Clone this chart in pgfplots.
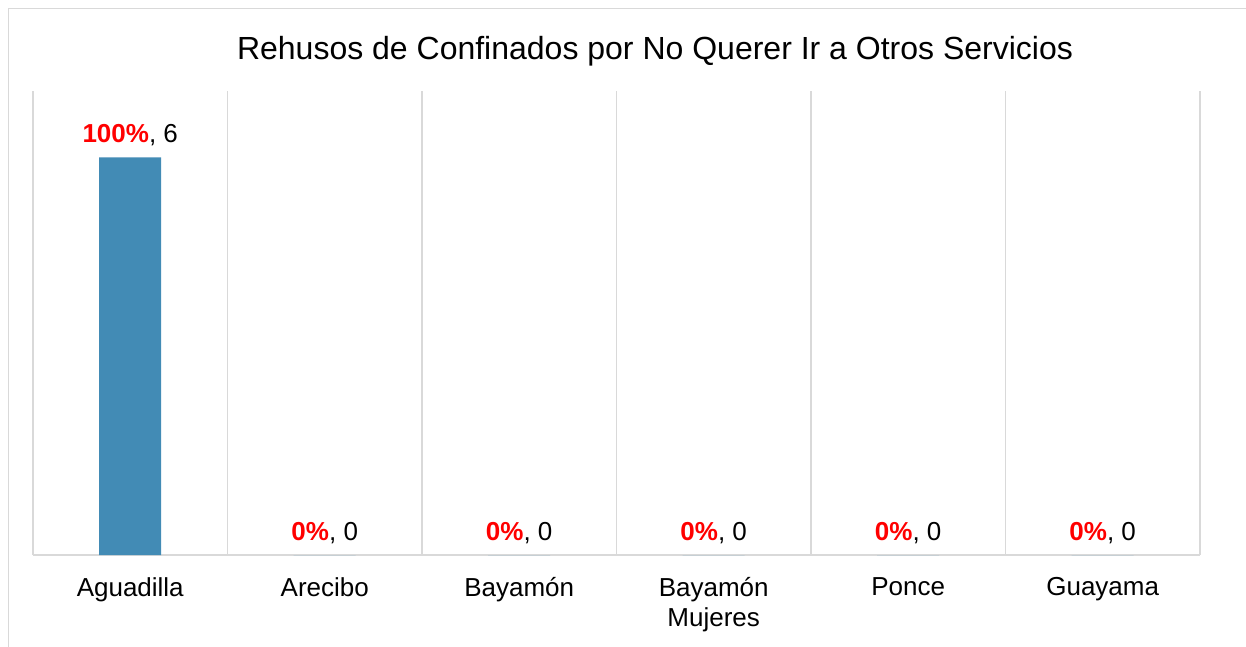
\documentclass[border=0pt]{standalone}
\usepackage{fontspec}
\setmainfont{Liberation Sans}
\usepackage{xcolor}
\usepackage{pgfplots}
\pgfplotsset{compat=1.18}
\usepackage{pgfplotstable}

\definecolor{barblue}{RGB}{66,139,181}
\definecolor{gridgray}{RGB}{217,217,217}

\pgfplotstableread{
x y pct
0.5 6 100
1.5 0 0
2.5 0 0
3.5 0 0
4.5 0 0
5.5 0 0
}\datatable

\begin{document}
\begin{tikzpicture}[x=1pt,y=1pt]
% outer frame (cut at right and bottom like the source)
\begin{scope}
\clip (0,0) rectangle (1246,646);
\draw[gridgray, line width=1.5pt] (8.5,-20) -- (8.5,637.5) -- (1300,637.5);
\end{scope}

\node[font=\fontsize{32}{38}\selectfont] at (655,595) {Rehusos de Confinados por No Querer Ir a Otros Servicios};

\begin{axis}[
    at={(33pt,91pt)}, anchor=origin,
    scale only axis,
    width=1167pt, height=464pt,
    xmin=0, xmax=6,
    ymin=0, ymax=7,
    axis x line=bottom,
    axis y line=none,
    axis line style={draw=gridgray, line width=1.5pt, -},
    xtick={0.5,1.5,...,5.5},
    xticklabels={Aguadilla, Arecibo, Bayamón, Bayamón\\Mujeres, Ponce, Guayama},
    xticklabel style={align=center, font=\fontsize{26}{30}\selectfont, yshift=-19pt},
    minor xtick={0,1,...,6},
    xminorgrids,
    minor grid style={draw=gridgray, line width=1.5pt},
    major tick length=0, minor tick length=0,
    /pgf/number format/assume math mode=true,
    ybar,
    bar width=62pt,
    nodes near coords={\textcolor{red}{\bfseries\pgfmathprintnumber{\pct}\%}, \pgfmathprintnumber{\pgfplotspointmeta}},
    nodes near coords style={font=\fontsize{26}{30}\selectfont, anchor=south, yshift=8pt},
    clip=false,
]
\addplot[fill=barblue, draw=none,
    visualization depends on={\thisrow{pct}\as\pct}]
    table[x=x, y=y] {\datatable};
\end{axis}

\pgfresetboundingbox
\useasboundingbox (0,0) rectangle (1246,646);
\end{tikzpicture}
\end{document}
